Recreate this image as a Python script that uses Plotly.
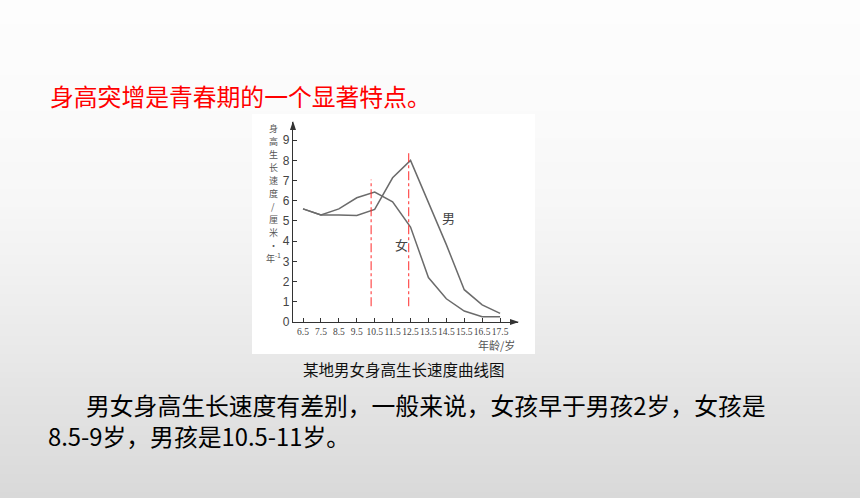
import plotly.graph_objects as go

# ---- data -------------------------------------------------------------
ages = [6.5, 7.5, 8.5, 9.5, 10.5, 11.5, 12.5, 13.5, 14.5, 15.5, 16.5, 17.5]
age_labels = ["6.5", "7.5", "8.5", "9.5", "10.5", "11.5", "12.5", "13.5",
              "14.5", "15.5", "16.5", "17.5"]
boy_speed = [5.6, 5.3, 5.3, 5.27, 5.57, 7.14, 8.0, 5.9, 3.83, 1.6, 0.85, 0.43]
girl_speed = [5.6, 5.3, 5.6, 6.15, 6.43, 5.95, 4.7, 2.2, 1.15, 0.54, 0.26, 0.26]
y_ticks = [0, 1, 2, 3, 4, 5, 6, 7, 8, 9]

# growth-spurt peak markers (age, top of marker line)
peak_ages = [10.3, 12.4]
peak_tops = [7.05, 8.5]
peak_bottom = 0.78

title_text = "身高突增是青春期的一个显著特点。"
caption_text = "某地男女身高生长速度曲线图"
body_line1 = "男女身高生长速度有差别，一般来说，女孩早于男孩2岁，女孩是"
body_line2 = "8.5-9岁，男孩是10.5-11岁。"
y_title_chars = ["身", "高", "生", "长", "速", "度", "/", "厘", "米", "·", "年<sup>-1</sup>"]
x_title = "年龄/岁"

# ---- page geometry ----------------------------------------------------
W, H = 860, 498
L, R, T, B = 293, 342, 122, 176
PW, PH = W - L - R, H - T - B
CJK = "Noto Sans CJK SC"


def px(xp):
    return (xp - L) / PW


def py(yp):
    return (H - B - yp) / PH


fig = go.Figure()

# curves
line_col = "#6b6b6b"
fig.add_trace(go.Scatter(x=ages, y=girl_speed, mode="lines",
                         line=dict(color=line_col, width=1.5), showlegend=False))
fig.add_trace(go.Scatter(x=ages, y=boy_speed, mode="lines",
                         line=dict(color=line_col, width=1.5), showlegend=False))

# red dash-dot peak markers
for a, top in zip(peak_ages, peak_tops):
    fig.add_trace(go.Scatter(x=[a, a], y=[peak_bottom, top], mode="lines",
                             line=dict(color="#ff2a2a", width=1, dash="dashdot"),
                             showlegend=False))

shapes = []
# slide background: soft vertical gradient, white to light grey
stops = [(0, 253), (100, 251), (200, 247), (250, 243), (300, 238),
         (350, 233), (400, 227), (450, 222), (498, 217)]


def grey_at(y):
    for (y0, g0), (y1, g1) in zip(stops[:-1], stops[1:]):
        if y0 <= y <= y1:
            return g0 + (g1 - g0) * (y - y0) / (y1 - y0)
    return stops[-1][1]


step = 3
for y0 in range(0, H, step):
    g = int(round(grey_at(y0 + step / 2)))
    shapes.append(dict(type="rect", xref="paper", yref="paper",
                       x0=px(0), x1=px(W), y0=py(y0), y1=py(min(y0 + step + 1, H)),
                       fillcolor=f"rgb({g},{g},{g})", line=dict(width=0),
                       layer="below"))

# white panel behind the chart
shapes.append(dict(type="rect", xref="paper", yref="paper",
                   x0=px(252), x1=px(535), y0=py(354), y1=py(114),
                   fillcolor="#ffffff", line=dict(width=0), layer="below"))


# axis arrowheads as small filled triangles
def tri(pts):
    p = [f"{px(a):.5f},{py(b):.5f}" for a, b in pts]
    return "M" + " L".join(p) + " Z"


shapes.append(dict(type="path", xref="paper", yref="paper",
                   path=tri([(293, 121), (290, 130), (296, 130)]),
                   fillcolor="#333", line=dict(width=0)))
shapes.append(dict(type="path", xref="paper", yref="paper",
                   path=tri([(519, 322), (510, 319), (510, 325)]),
                   fillcolor="#333", line=dict(width=0)))

annotations = []

# vertical y-axis title, one glyph per row
for i, ch in enumerate(y_title_chars):
    annotations.append(dict(xref="paper", yref="paper", x=px(273),
                            y=py(128 + 13 * i), text=ch, showarrow=False,
                            xanchor="center", yanchor="middle", borderpad=0,
                            font=dict(family=CJK, size=9, color="#555")))

# x-axis title
annotations.append(dict(xref="paper", yref="paper", x=px(517), y=py(345),
                        text=x_title, showarrow=False, xanchor="right",
                        yanchor="middle",
                        font=dict(family=CJK, size=11, color="#555")))

# curve labels
annotations.append(dict(x=14.6, y=5.16, text="男", showarrow=False,
                        font=dict(family=CJK, size=13, color="#444")))
annotations.append(dict(x=12.0, y=3.84, text="女", showarrow=False,
                        font=dict(family=CJK, size=13, color="#444")))

# slide texts
annotations.append(dict(xref="paper", yref="paper", x=px(48), y=py(95),
                        text=title_text, showarrow=False, xanchor="left",
                        yanchor="middle",
                        font=dict(family=CJK, size=23.8, color="#ff0000")))
annotations.append(dict(xref="paper", yref="paper", x=px(404), y=py(368.5),
                        text=caption_text, showarrow=False, xanchor="center",
                        yanchor="middle",
                        font=dict(family=CJK, size=15.5, color="#111")))
annotations.append(dict(xref="paper", yref="paper", x=px(84), y=py(404),
                        text=body_line1, showarrow=False, xanchor="left",
                        yanchor="middle",
                        font=dict(family=CJK, size=23.8, color="#000")))
annotations.append(dict(xref="paper", yref="paper", x=px(46), y=py(435),
                        text=body_line2, showarrow=False, xanchor="left",
                        yanchor="middle",
                        font=dict(family=CJK, size=23.8, color="#000")))

fig.update_layout(
    width=W, height=H, autosize=False,
    margin=dict(l=L, r=R, t=T, b=B, pad=0),
    paper_bgcolor="#ffffff", plot_bgcolor="rgba(0,0,0,0)",
    shapes=shapes, annotations=annotations, showlegend=False,
    xaxis=dict(range=[5.94, 18.5], showgrid=False, zeroline=False,
               showline=True, linecolor="#333", linewidth=1.2,
               ticks="inside", ticklen=4, tickcolor="#333", tickwidth=1,
               tickvals=ages, ticktext=age_labels, tickangle=0,
               tickfont=dict(family="Liberation Serif", size=9.5, color="#444")),
    yaxis=dict(range=[0, 9.9], showgrid=False, zeroline=False,
               showline=True, linecolor="#333", linewidth=1.2,
               ticks="inside", ticklen=4, tickcolor="#333", tickwidth=1,
               tickvals=y_ticks,
               tickfont=dict(family="Liberation Sans", size=12, color="#444")),
)

fig.write_html("out.html", config={"displayModeBar": False})
